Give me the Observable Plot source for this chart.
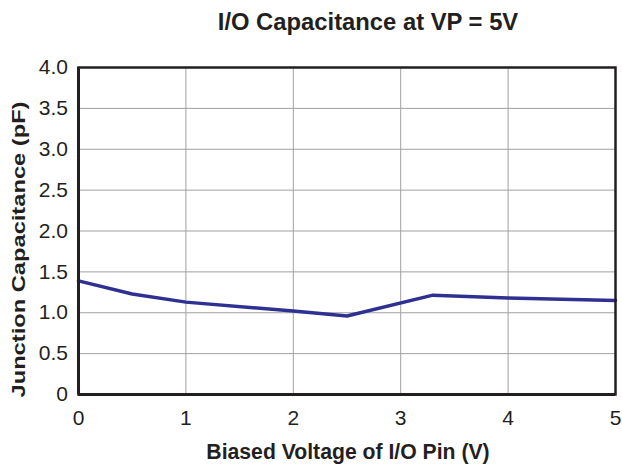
<!DOCTYPE html>
<html>
<head>
<meta charset="utf-8">
<script src="https://cdn.jsdelivr.net/npm/d3@7"></script>
<script src="https://cdn.jsdelivr.net/npm/@observablehq/plot@0.6"></script>
<style>
html,body{margin:0;padding:0;background:#fff;}
</style>
</head>
<body>
<div id="chart"></div>
<script>
const voltage = [0, 0.5, 1, 2, 2.5, 3.3, 4, 5];
const capacitance = [1.39, 1.23, 1.13, 1.02, 0.96, 1.215, 1.18, 1.15];
const xTicks = [0, 1, 2, 3, 4, 5];
const yTicks = [0, 0.5, 1, 1.5, 2, 2.5, 3, 3.5, 4];
const title = "I/O Capacitance at VP = 5V";
const xLabel = "Biased Voltage of I/O Pin (V)";
const yLabel = "Junction Capacitance (pF)";

const data = voltage.map((v, i) => ({v, c: capacitance[i]}));
const ink = "#231f20";

const chart = Plot.plot({
  width: 622,
  height: 465,
  marginLeft: 78,
  marginRight: 7,
  marginTop: 67,
  marginBottom: 71,
  style: {fontFamily: "'Liberation Sans', Arial, sans-serif", fontSize: "21px", color: ink, background: "#fff"},
  x: {domain: [0, 5], label: null},
  y: {domain: [0, 4], label: null},
  marks: [
    Plot.gridX(xTicks, {stroke: "#a0a0a0", strokeOpacity: 1, strokeWidth: 1}),
    Plot.gridY(yTicks, {stroke: "#a0a0a0", strokeOpacity: 1, strokeWidth: 1}),
    Plot.line(data, {x: "v", y: "c", stroke: "#2e3192", strokeWidth: 3.5, strokeLinejoin: "round"}),
    Plot.frame({stroke: ink, strokeWidth: 2.5}),
    Plot.ruleX([0], {stroke: ink, strokeWidth: 3}),
    Plot.ruleY([0], {stroke: ink, strokeWidth: 3}),
    Plot.axisX({ticks: xTicks, tickSize: 0, tickPadding: 16, fontSize: 21, fill: ink, tickFormat: d => String(d), label: null}),
    Plot.axisY({ticks: yTicks, tickSize: 0, tickPadding: 10.5, fontSize: 21, fill: ink, tickFormat: d => d === 0 ? "0" : d.toFixed(1), label: null}),
    Plot.text([title], {frameAnchor: "top", textAnchor: "middle", lineAnchor: "top", dx: 21, dy: -54.3, text: d => d, fontWeight: "bold", fontSize: 23.8, fill: ink}),
    Plot.text([xLabel], {frameAnchor: "bottom", textAnchor: "middle", lineAnchor: "top", dx: 1, dy: 49, text: d => d, fontWeight: "bold", fontSize: 21.2, fill: ink}),
    Plot.text([yLabel], {frameAnchor: "left", textAnchor: "middle", lineAnchor: "middle", dx: -60, dy: 18.5, rotate: -90, text: d => d, fontWeight: "bold", fontSize: 19, fill: ink})
  ]
});
// stretch y label along its length to match reference proportions
d3.select(chart).selectAll("text")
  .filter(function() { return this.textContent === yLabel; })
  .attr("textLength", 296).attr("lengthAdjust", "spacingAndGlyphs");
document.getElementById("chart").appendChild(chart);
</script>
</body>
</html>
